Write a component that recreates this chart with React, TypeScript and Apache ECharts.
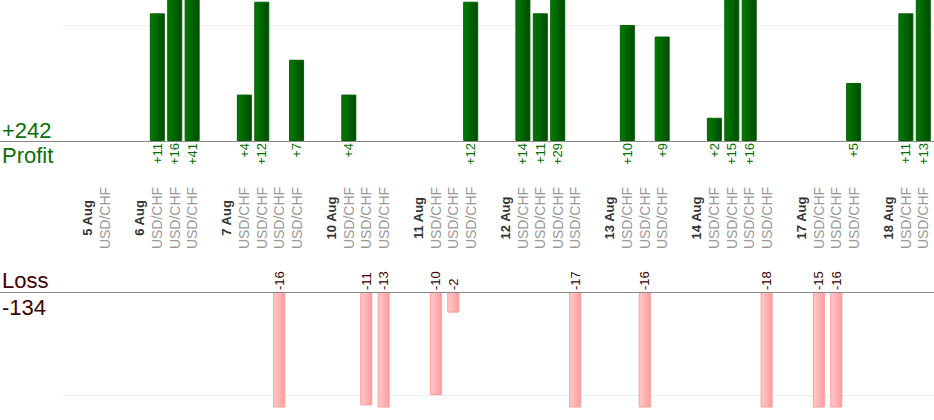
import React, { useEffect, useRef } from "react";
import * as echarts from "echarts";

// ---- data ----
const days: string[] = ["5 Aug", "6 Aug", "7 Aug", "10 Aug", "11 Aug", "12 Aug", "13 Aug", "14 Aug", "17 Aug", "18 Aug"];
const pair = "USD/CHF";
// one list of trade results per day (null = no closed result)
const results: (number | null)[][] = [
  [null],
  [11, 16, 41],
  [4, 12, -16, 7],
  [4, -11, -13],
  [-10, -2, 12],
  [14, 11, 29, -17],
  [10, -16, 9],
  [2, 15, 16, -18],
  [-15, -16, 5],
  [11, 13],
];

// ---- derived slot layout: day header, trades, blank separator ----
const categories: string[] = [];
const kinds: string[] = [];
const profit: (number | null)[] = [];
const loss: (number | null)[] = [];
days.forEach((d, i) => {
  categories.push(d);
  kinds.push("day");
  profit.push(null);
  loss.push(null);
  results[i].forEach((v) => {
    categories.push(pair);
    kinds.push("pair");
    profit.push(v != null && v > 0 ? v : null);
    loss.push(v != null && v < 0 ? v : null);
  });
  if (i < days.length - 1) {
    categories.push("");
    kinds.push("gap");
    profit.push(null);
    loss.push(null);
  }
});
const totalProfit = profit.reduce((a: number, v) => a + (v || 0), 0);
const totalLoss = loss.reduce((a: number, v) => a + (v || 0), 0);

const FONT = "'Liberation Sans', Arial, Helvetica, sans-serif";
const GREEN = "#0b6e0b";
const MAROON = "#3d0000";

export default function App() {
  const ref = useRef<HTMLDivElement>(null);
  useEffect(() => {
    if (!ref.current) return;
    const chart = echarts.init(ref.current, null, { renderer: "svg" });
    chart.setOption({
      animation: false,
      backgroundColor: "#ffffff",
      grid: [
        { left: 79, right: 2, top: 0, height: 141 },
        { left: 79, right: 2, top: 292, height: 115 },
      ],
      xAxis: [
        {
          type: "category",
          gridIndex: 0,
          data: categories,
          axisLine: { show: false },
          axisTick: { show: false },
          splitLine: { show: false },
          axisLabel: {
            interval: 0,
            rotate: 90,
            margin: 77,
            align: "center",
            verticalAlign: "middle",
            formatter: (v: string, i: number) =>
              kinds[i] === "day" ? `{d|${v}}` : kinds[i] === "pair" ? `{p|${v}}` : "",
            rich: {
              d: { fontFamily: FONT, fontSize: 13, fontWeight: "bold", color: "#333333" },
              p: { fontFamily: FONT, fontSize: 14, color: "#999999" },
            },
          },
        },
        {
          type: "category",
          gridIndex: 1,
          data: categories,
          axisLine: { show: false },
          axisTick: { show: false },
          axisLabel: { show: false },
          splitLine: { show: false },
        },
      ],
      yAxis: [
        { type: "value", gridIndex: 0, min: 0, max: 12.15, show: false, splitLine: { show: false } },
        { type: "value", gridIndex: 1, min: -11.15, max: 0, show: false, splitLine: { show: false } },
      ],
      series: [
        {
          type: "bar",
          name: "Profit",
          xAxisIndex: 0,
          yAxisIndex: 0,
          data: profit,
          barWidth: 15,
          clip: true,
          z: 3,
          itemStyle: {
            color: new echarts.graphic.LinearGradient(0, 0, 1, 0, [
              { offset: 0, color: "#007c00" },
              { offset: 1, color: "#004a00" },
            ]),
            borderColor: "#005f00",
            borderWidth: 1,
          },
          label: {
            show: true,
            position: "bottom",
            distance: 2,
            rotate: 90,
            align: "right",
            verticalAlign: "middle",
            formatter: (p: any) => "+" + p.value,
            color: "#007000",
            fontSize: 13,
            fontFamily: FONT,
          },
        },
        {
          type: "bar",
          name: "Loss",
          xAxisIndex: 1,
          yAxisIndex: 1,
          data: loss,
          barWidth: 12,
          clip: true,
          z: 3,
          itemStyle: {
            color: new echarts.graphic.LinearGradient(0, 0, 1, 0, [
              { offset: 0, color: "#ffcaca" },
              { offset: 1, color: "#ff9c9c" },
            ]),
            borderColor: "#ff9a9a",
            borderWidth: 1,
          },
          label: {
            show: true,
            position: "top",
            distance: 2,
            rotate: 90,
            align: "left",
            verticalAlign: "middle",
            formatter: (p: any) => String(p.value),
            color: MAROON,
            fontSize: 13,
            fontFamily: FONT,
          },
        },
      ],
    });

    const yP0 = chart.convertToPixel({ yAxisIndex: 0 }, 0) as number;
    const yP10 = chart.convertToPixel({ yAxisIndex: 0 }, 10) as number;
    const yL0 = chart.convertToPixel({ yAxisIndex: 1 }, 0) as number;
    const yL10 = chart.convertToPixel({ yAxisIndex: 1 }, -10) as number;
    const W = 934;
    chart.setOption({
      graphic: [
        { type: "line", z: 0, shape: { x1: 63, y1: Math.round(yP10) + 0.5, x2: W, y2: Math.round(yP10) + 0.5 }, style: { stroke: "#eeeeee", lineWidth: 1 } },
        { type: "line", z: 0, shape: { x1: 63, y1: Math.round(yL10) + 0.5, x2: W, y2: Math.round(yL10) + 0.5 }, style: { stroke: "#eeeeee", lineWidth: 1 } },
        { type: "line", z: 10, shape: { x1: 0, y1: Math.round(yP0) + 0.5, x2: W, y2: Math.round(yP0) + 0.5 }, style: { stroke: "#888888", lineWidth: 1 } },
        { type: "line", z: 10, shape: { x1: 0, y1: Math.round(yL0) + 0.5, x2: W, y2: Math.round(yL0) + 0.5 }, style: { stroke: "#888888", lineWidth: 1 } },
        { type: "text", x: 2, y: yP0 - 22, style: { text: "+" + totalProfit, fontSize: 22, fontFamily: FONT, fill: GREEN, verticalAlign: "top" } },
        { type: "text", x: 2, y: yP0 + 3.5, style: { text: "Profit", fontSize: 22, fontFamily: FONT, fill: GREEN, verticalAlign: "top" } },
        { type: "text", x: 2, y: yL0 - 23, style: { text: "Loss", fontSize: 22, fontFamily: FONT, fill: MAROON, verticalAlign: "top" } },
        { type: "text", x: 2, y: yL0 + 4, style: { text: String(totalLoss), fontSize: 22, fontFamily: FONT, fill: MAROON, verticalAlign: "top" } },
      ],
    });

    return () => chart.dispose();
  }, []);
  return (
    <div
      ref={ref}
      style={{ position: "absolute", left: 0, top: 0, width: 934, height: 420, background: "#fff" }}
    />
  );
}
